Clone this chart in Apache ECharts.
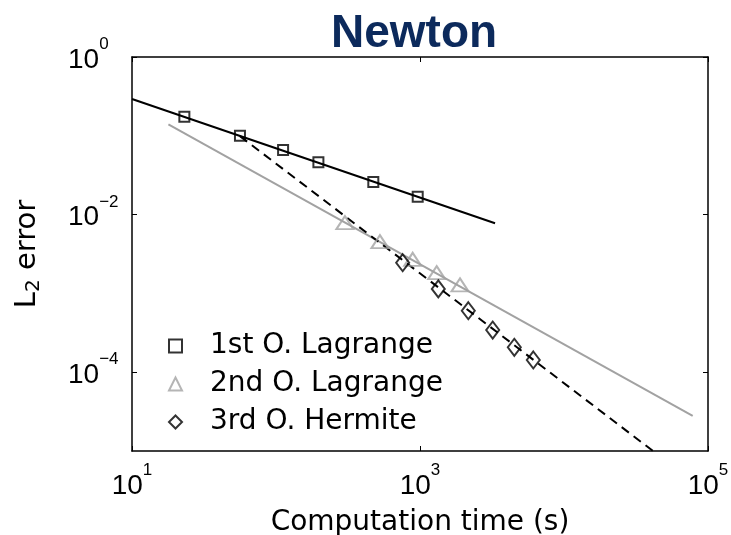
<!DOCTYPE html>
<html>
<head>
<meta charset="utf-8">
<script src="https://cdn.jsdelivr.net/npm/echarts@6/dist/echarts.min.js"></script>
<style>
  html, body { margin: 0; padding: 0; background: #ffffff; }
  #chart { width: 731px; height: 535px; }
</style>
</head>
<body>
<div id="chart"></div>
<script>
// Newton solver: L2 error against computation time for three interpolation schemes
const lagrange1Time = [23.1, 56.2, 112, 197, 474, 964];
const lagrange1Err  = [0.175, 0.100, 0.066, 0.046, 0.026, 0.0169];

const lagrange2Time = [301, 527, 890, 1306, 1896];
const lagrange2Err  = [0.00789, 0.00453, 0.00271, 0.00183, 0.00128];

const hermite3Time = [758, 1340, 2165, 3198, 4518, 6120];
const hermite3Err  = [0.00245, 0.00114, 0.000603, 0.000343, 0.000207, 0.000143];

// Fitted convergence trends (end points of each straight line in log-log space)
const fit1Time = [10, 3320];
const fit1Err  = [0.293, 0.00776];
const fit2Time = [17.9, 78300];
const fit2Err  = [0.140, 2.8e-5];
const fit3Time = [56.2, 41500];
const fit3Err  = [0.099, 1e-5];

// Decade tick positions
const xTicks = [10, 1000, 100000];
const yTicks = [1e-4, 1e-2, 1];

const seriesNames = ['1st O. Lagrange', '2nd O. Lagrange', '3rd O. Hermite'];

const NUM_FONT = "'Liberation Sans', Arial, Helvetica, sans-serif";
const TEXT_FONT = "'DejaVu Sans', 'Liberation Sans', Arial, sans-serif";
const GRAY = '#a2a2a2';

const pairs = (xs, ys) => xs.map((x, i) => [x, ys[i]]);

function powLabel(v) {
  const e = Math.round(Math.log10(v));
  return '{b|10}{s|' + String(e).replace('-', '\u2212') + '}';
}

// "10" on the baseline with a raised exponent
const labelRich = {
  b: { fontSize: 28, lineHeight: 28, verticalAlign: 'bottom', fontFamily: NUM_FONT, color: '#000' },
  s: { fontSize: 17, lineHeight: 38, padding: [0, 0, 21, 0], verticalAlign: 'top', fontFamily: NUM_FONT, color: '#000' }
};

const axisLineStyle = { show: true, lineStyle: { color: '#000', width: 1.5 } };

function mainLogAxis(min, max, ticks, extra) {
  return Object.assign({
    type: 'log',
    logBase: 10,
    min: min,
    max: max,
    axisLine: axisLineStyle,
    axisTick: { show: true, inside: true, length: 5, customValues: ticks, lineStyle: { color: '#000', width: 1 } },
    minorTick: { show: false },
    splitLine: { show: false }
  }, extra);
}

function mirrorLogAxis(min, max, ticks, position) {
  return {
    type: 'log',
    logBase: 10,
    min: min,
    max: max,
    position: position,
    axisLine: axisLineStyle,
    axisTick: { show: true, inside: true, length: 5, customValues: ticks, lineStyle: { color: '#000', width: 1 } },
    minorTick: { show: false },
    splitLine: { show: false },
    axisLabel: { show: false }
  };
}

const chart = echarts.init(document.getElementById('chart'), null, { renderer: 'canvas' });

chart.setOption({
  backgroundColor: '#ffffff',
  animation: false,
  title: {
    text: 'Newton',
    left: 326,
    top: 6,
    textStyle: { fontFamily: NUM_FONT, fontWeight: 'bold', fontSize: 46, color: '#0c2a5c' }
  },
  grid: { left: 132, right: 23, top: 57, bottom: 84, containLabel: false, outerBoundsMode: 'none' },
  legend: {
    data: seriesNames,
    orient: 'vertical',
    left: 163,
    top: 327,
    itemWidth: 13,
    itemHeight: 13,
    itemGap: 10,
    textStyle: { fontFamily: TEXT_FONT, fontSize: 28, color: '#000', padding: [0, 0, 0, 23] }
  },
  xAxis: [
    mainLogAxis(10, 100000, xTicks, {
      position: 'bottom',
      name: 'Computation time (s)',
      nameLocation: 'middle',
      nameGap: 58,
      nameTextStyle: { fontFamily: TEXT_FONT, fontSize: 28, color: '#000' },
      axisLabel: { customValues: xTicks, formatter: powLabel, rich: labelRich, margin: 11 }
    }),
    mirrorLogAxis(10, 100000, xTicks, 'top')
  ],
  yAxis: [
    mainLogAxis(1e-5, 1, yTicks, {
      position: 'left',
      name: '{l|L}{sub|2}{l| error}',
      nameLocation: 'middle',
      nameRotate: 90,
      nameGap: 88,
      nameTextStyle: {
        rich: {
          l: { fontSize: 29, lineHeight: 29, fontFamily: TEXT_FONT, color: '#000' },
          sub: { fontSize: 20, lineHeight: 34, padding: [14, 0, 0, 0], verticalAlign: 'top', fontFamily: TEXT_FONT, color: '#000' }
        }
      },
      axisLabel: { customValues: yTicks, formatter: powLabel, rich: labelRich, align: 'left', margin: 64, padding: [0, 0, 4, 0] }
    }),
    mirrorLogAxis(1e-5, 1, yTicks, 'right')
  ],
  series: [
    {
      name: 'fit-1', type: 'line', data: pairs(fit1Time, fit1Err),
      symbol: 'none', silent: true, z: 1,
      lineStyle: { color: '#000', width: 2 }
    },
    {
      name: 'fit-2', type: 'line', data: pairs(fit2Time, fit2Err),
      symbol: 'none', silent: true, z: 1,
      lineStyle: { color: GRAY, width: 2 }
    },
    {
      name: 'fit-3', type: 'line', data: pairs(fit3Time, fit3Err),
      symbol: 'none', silent: true, z: 1,
      lineStyle: { color: '#000', width: 2, type: [9, 6] }
    },
    {
      name: seriesNames[0], type: 'scatter', data: pairs(lagrange1Time, lagrange1Err),
      symbol: 'rect', symbolSize: 10, z: 3,
      itemStyle: { color: 'rgba(0,0,0,0)', borderColor: '#000', borderWidth: 2 }
    },
    {
      name: seriesNames[1], type: 'scatter', data: pairs(lagrange2Time, lagrange2Err),
      symbol: 'triangle', symbolSize: [17, 13], z: 3,
      itemStyle: { color: 'rgba(0,0,0,0)', borderColor: GRAY, borderWidth: 2 }
    },
    {
      name: seriesNames[2], type: 'scatter', data: pairs(hermite3Time, hermite3Err),
      symbol: 'diamond', symbolSize: [13, 17], z: 3,
      itemStyle: { color: 'rgba(0,0,0,0)', borderColor: '#000', borderWidth: 2 }
    }
  ]
});
</script>
</body>
</html>
